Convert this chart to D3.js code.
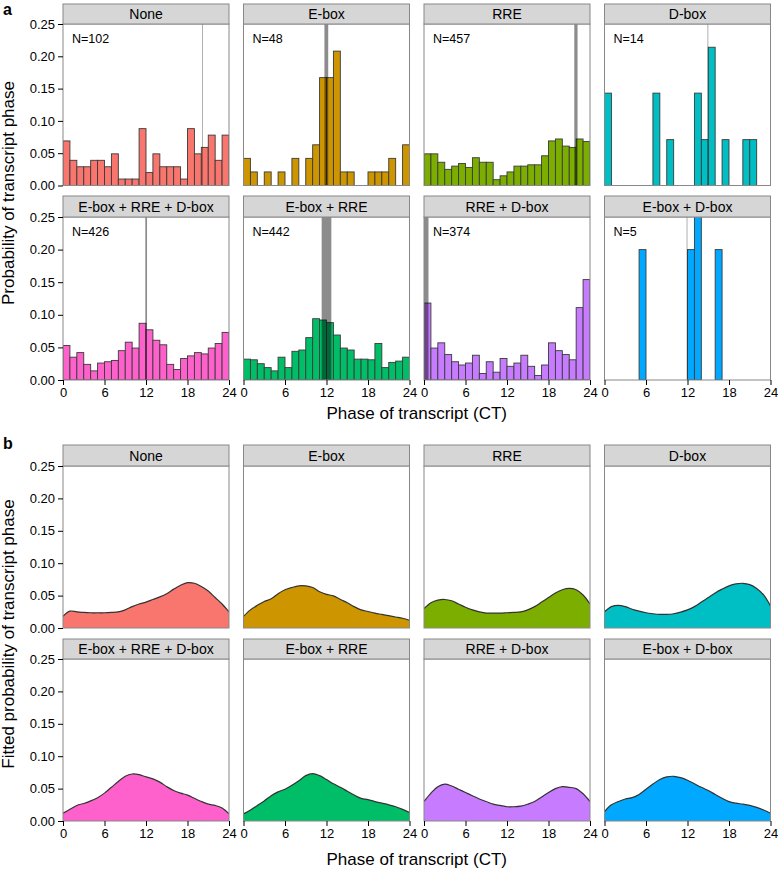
<!DOCTYPE html>
<html><head><meta charset="utf-8">
<script src="https://cdn.jsdelivr.net/npm/d3@7"></script>
<style>body{margin:0;background:#fff}svg{display:block}text{font-family:"Liberation Sans",Arial,Helvetica,sans-serif}</style>
</head><body><svg id="c" width="778" height="870"></svg>
<script>
// ---------- data ----------
const categories = ["None","E-box","RRE","D-box","E-box + RRE + D-box","E-box + RRE","RRE + D-box","E-box + D-box"];
const geneCounts = [102,48,457,14,426,442,374,5];
const colors = ["#F8766D","#CD9600","#7CAE00","#00BFC4","#FF61CC","#00BE67","#C77CFF","#00A9FF"];
const phaseTicks = [0,6,12,18,24];
const probTicks = [0,0.05,0.10,0.15,0.20,0.25];
const binStarts = [0,1,2,3,4,5,6,7,8,9,10,11,12,13,14,15,16,17,18,19,20,21,22,23];
const densityHours = [0,1,2,3,4,5,6,7,8,9,10,11,12,13,14,15,16,17,18,19,20,21,22,23,24];

// histogram probabilities per 1-h bin (panel a)
const histNone = [0.069,0.039,0.029,0.029,0.039,0.039,0.029,0.049,0.010,0.010,0.010,0.088,0.020,0.049,0.029,0.029,0.029,0.010,0.088,0.049,0.059,0.078,0.039,0.078];
const histEbox = [0.042,0.021,0,0.021,0,0.021,0,0.042,0,0.042,0.063,0.167,0.167,0.208,0.021,0.021,0,0,0.021,0.021,0.021,0.042,0,0.063];
const histRRE = [0.049,0.049,0.036,0.025,0.030,0.034,0.028,0.043,0.036,0.036,0.009,0.015,0.021,0.030,0.030,0.032,0.032,0.046,0.069,0.072,0.061,0.059,0.072,0.068];
const histDbox = [0.143,0,0,0,0,0,0,0.143,0,0.071,0,0,0,0.143,0.071,0.214,0,0.071,0,0,0.071,0.071,0,0];
const histERD = [0.053,0.035,0.042,0.024,0.014,0.026,0.028,0.030,0.045,0.058,0.049,0.087,0.077,0.061,0.054,0.024,0.016,0.033,0.037,0.042,0.040,0.049,0.056,0.073];
const histER = [0.032,0.031,0.025,0.019,0.014,0.035,0.019,0.044,0.046,0.065,0.094,0.092,0.088,0.069,0.049,0.046,0.032,0.032,0.031,0.056,0.019,0.027,0.029,0.035];
const histRD = [0.118,0.049,0.057,0.039,0.028,0.023,0.026,0.038,0.010,0.028,0.012,0.033,0.021,0.026,0.038,0.021,0.007,0.023,0.057,0.045,0.039,0.031,0.111,0.154];
const histED = [0,0,0,0,0,0.2,0,0,0,0,0,0,0.2,0.4,0,0,0.2,0,0,0,0,0,0,0];
const histograms = [histNone,histEbox,histRRE,histDbox,histERD,histER,histRD,histED];

// mean-phase confidence bands (CT hours)
const bandNone = [20.1,20.2];
const bandEbox = [11.7,12.25];
const bandRRE = [21.73,22.2];
const bandDbox = [14.9,15.0];
const bandERD = [11.9,12.15];
const bandER = [11.3,12.7];
const bandRD = [0,0.65];
const bandED = [11.88,11.98];
const bands = [bandNone,bandEbox,bandRRE,bandDbox,bandERD,bandER,bandRD,bandED];

// fitted densities at each hour (panel b)
const densNone = [0.018,0.026,0.025,0.024,0.0235,0.0235,0.0235,0.024,0.025,0.028,0.033,0.037,0.040,0.044,0.048,0.053,0.060,0.066,0.070,0.069,0.064,0.057,0.047,0.037,0.025];
const densEbox = [0.018,0.028,0.035,0.041,0.045,0.053,0.059,0.0625,0.065,0.065,0.0625,0.056,0.052,0.0495,0.044,0.039,0.033,0.028,0.0255,0.023,0.021,0.019,0.017,0.015,0.012];
const densRRE = [0.030,0.039,0.043,0.044,0.042,0.037,0.032,0.028,0.025,0.023,0.023,0.023,0.0235,0.024,0.025,0.028,0.033,0.040,0.047,0.054,0.059,0.061,0.059,0.051,0.037];
const densDbox = [0.025,0.033,0.035,0.033,0.029,0.026,0.0235,0.022,0.021,0.021,0.022,0.0245,0.028,0.033,0.040,0.047,0.054,0.060,0.065,0.068,0.069,0.067,0.061,0.051,0.034];
const densERD = [0.012,0.018,0.024,0.027,0.031,0.036,0.043,0.052,0.061,0.069,0.0725,0.0715,0.068,0.065,0.060,0.053,0.047,0.043,0.040,0.035,0.030,0.026,0.024,0.020,0.011];
const densER = [0.011,0.017,0.024,0.031,0.039,0.045,0.049,0.055,0.062,0.070,0.073,0.070,0.064,0.0575,0.052,0.046,0.040,0.035,0.033,0.030,0.0275,0.025,0.022,0.018,0.013];
const densRD = [0.030,0.043,0.053,0.057,0.054,0.049,0.044,0.039,0.034,0.030,0.026,0.024,0.022,0.022,0.023,0.026,0.030,0.037,0.044,0.050,0.053,0.052,0.050,0.042,0.030];
const densED = [0.0145,0.025,0.030,0.034,0.036,0.041,0.049,0.057,0.064,0.068,0.069,0.067,0.063,0.0575,0.052,0.047,0.041,0.035,0.030,0.0275,0.026,0.024,0.021,0.017,0.012];
const densities = [densNone,densEbox,densRRE,densDbox,densERD,densER,densRD,densED];

// ---------- layout ----------
const svg = d3.select("#c");
const defs = svg.append("defs");
const colLeft = [63,243.5,424,604.5], panelW = 166;
const sections = [
  {type:"hist", label:"a", labelY:15, yTitle:"Probability of transcript phase", yTitleY:193, xTitleY:419,
   rows:[{stripTop:4, plotTop:24, plotBottom:185.5},{stripTop:196, plotTop:217, plotBottom:380}]},
  {type:"dens", label:"b", labelY:449, yTitle:"Fitted probability of transcript phase", yTitleY:634, xTitleY:865,
   rows:[{stripTop:445, plotTop:466, plotBottom:628},{stripTop:639, plotTop:659, plotBottom:821}]}
];

sections.forEach((sec, si) => {
  categories.forEach((cat, k) => {
    const r = Math.floor(k/4), c = k % 4, row = sec.rows[r];
    const x = d3.scaleLinear().domain([0,24]).range([colLeft[c], colLeft[c]+panelW]);
    const y = d3.scaleLinear().domain([0,0.25]).range([row.plotBottom, row.plotTop]);
    const g = svg.append("g");
    const cid = `clip${si}_${k}`;
    defs.append("clipPath").attr("id", cid).append("rect")
      .attr("x", x(0)).attr("y", y(0.25)).attr("width", x(24)-x(0)).attr("height", y(0)-y(0.25));
    const pg = g.append("g").attr("clip-path", `url(#${cid})`);

    if (sec.type === "hist") {
      const data = histograms[k].map((v,i)=>({s:binStarts[i], v})).filter(d=>d.v>0);
      pg.selectAll("rect.bar").data(data).join("rect").attr("class","bar")
        .attr("x", d=>x(d.s)).attr("width", d=>x(d.s+1)-x(d.s))
        .attr("y", d=>y(d.v)).attr("height", d=>y(0)-y(d.v))
        .attr("fill", colors[k]).attr("stroke", "#3a3a3a").attr("stroke-width", 0.9);
      const b = bands[k];
      pg.append("rect").attr("x", x(b[0])).attr("width", x(b[1])-x(b[0]))
        .attr("y", y(0.25)).attr("height", y(0)-y(0.25))
        .attr("fill", "#000").attr("opacity", 0.45);
      g.append("text").attr("x", x(0)+9).attr("y", row.plotTop+18.5)
        .attr("font-size", 12.5).attr("fill", "#000").text("N=" + geneCounts[k]);
    } else {
      const dd = densities[k];
      const area = d3.area().x((d,i)=>x(densityHours[i])).y0(y(0)).y1(d=>y(d)).curve(d3.curveCatmullRom.alpha(0.5));
      const line = d3.line().x((d,i)=>x(densityHours[i])).y(d=>y(d)).curve(d3.curveCatmullRom.alpha(0.5));
      pg.append("path").attr("d", area(dd)).attr("fill", colors[k]);
      pg.append("path").attr("d", line(dd)).attr("fill", "none").attr("stroke", "#333").attr("stroke-width", 1.2);
    }

    // panel border
    g.append("rect").attr("x", x(0)).attr("y", y(0.25)).attr("width", x(24)-x(0)).attr("height", y(0)-y(0.25))
      .attr("fill", "none").attr("stroke", "#888").attr("stroke-width", 1);
    // strip
    g.append("rect").attr("x", x(0)).attr("y", row.stripTop).attr("width", x(24)-x(0)).attr("height", row.plotTop-row.stripTop)
      .attr("fill", "#d6d6d6").attr("stroke", "#888").attr("stroke-width", 1);
    g.append("text").attr("x", (x(0)+x(24))/2).attr("y", row.stripTop + (row.plotTop-row.stripTop)/2 + 5)
      .attr("text-anchor", "middle").attr("font-size", 14).attr("fill", "#000").text(cat);

    if (c === 0) {
      const ya = g.append("g").attr("transform", `translate(${x(0)},0)`)
        .call(d3.axisLeft(y).tickValues(probTicks).tickFormat(d3.format(".2f")).tickSize(5).tickPadding(3));
      ya.select(".domain").remove();
      ya.selectAll("line").attr("stroke", "#000");
      ya.selectAll("text").attr("font-size", 13).attr("fill", "#000").attr("font-family", '"Liberation Sans",Arial,sans-serif');
    }
    if (r === 1) {
      const xa = g.append("g").attr("transform", `translate(0,${y(0)})`)
        .call(d3.axisBottom(x).tickValues(phaseTicks).tickSize(5).tickPadding(3));
      xa.select(".domain").remove();
      xa.selectAll("line").attr("stroke", "#000");
      xa.selectAll("text").attr("font-size", 13).attr("fill", "#000").attr("font-family", '"Liberation Sans",Arial,sans-serif');
    }
  });

  svg.append("text").attr("x", 3).attr("y", sec.labelY).attr("font-size", 16).attr("font-weight", "bold").text(sec.label);
  svg.append("text").attr("transform", `translate(14,${sec.yTitleY}) rotate(-90)`)
    .attr("text-anchor", "middle").attr("font-size", 17).attr("fill", "#000").text(sec.yTitle);
  svg.append("text").attr("x", (colLeft[0] + colLeft[3] + panelW)/2).attr("y", sec.xTitleY)
    .attr("text-anchor", "middle").attr("font-size", 17).attr("fill", "#000").text("Phase of transcript (CT)");
});
</script></body></html>
